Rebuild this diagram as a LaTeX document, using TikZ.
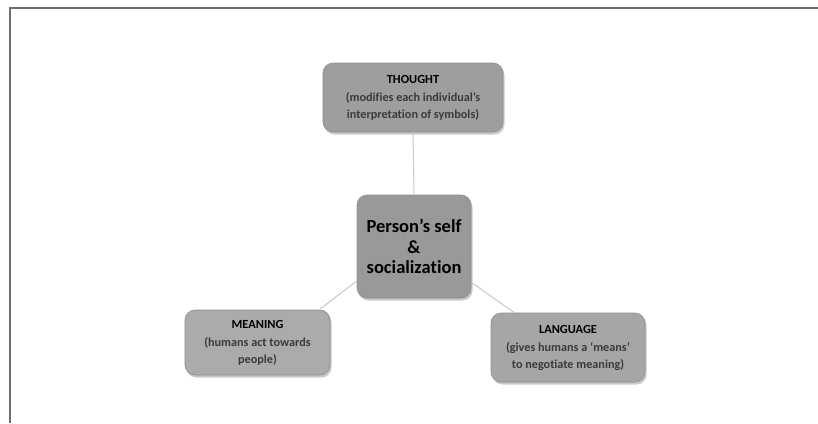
\documentclass[tikz,border=0pt]{standalone}
\usepackage{fontspec}
\setmainfont[Ligatures=NoCommon]{Carlito}
\usetikzlibrary{shadows}
\definecolor{boxA}{HTML}{9E9E9E}
\definecolor{boxB}{HTML}{ABABAB}
\definecolor{boxedge}{HTML}{8E8E8E}
\definecolor{subtxt}{HTML}{3A3A3A}
\definecolor{linkc}{HTML}{C8C8C8}
\definecolor{framec}{HTML}{6E6E6E}
\tikzset{
  box/.style={rectangle, rounded corners=10pt, draw=boxedge, line width=0.6pt,
    align=center, inner sep=2pt,
    drop shadow={opacity=0.35, shadow xshift=1.5pt, shadow yshift=-2.5pt, fill=black!60}},
  small/.style={font=\bfseries\fontsize{12.2}{16.5}\selectfont, text=subtxt},
  conn/.style={draw=linkc, line width=1pt},
  frameline/.style={draw=framec, line width=1.4pt},
}
\newcommand{\ttl}[1]{{\color{black}\fontsize{12.4}{16.5}\selectfont #1}}
\begin{document}
\begin{tikzpicture}[x=1pt,y=-1pt]
\useasboundingbox[fill=white] (0,0) rectangle (818,423);
\draw[frameline] (10,423) -- (10,8) -- (818,8);

\node[box, small, fill=boxA, minimum width=180pt, minimum height=69pt] (t) at (413,97.5)
  {\ttl{THOUGHT}\\[2pt](modifies each individual's\\interpretation of symbols)};

\node[box, fill=boxA!97!black, minimum width=114pt, minimum height=103pt, font=\bfseries\fontsize{18.5}{20.5}\selectfont] (c) at (414,246.5)
  {Person's self\\\&\\socialization};

\node[box, small, fill=boxB, minimum width=145pt, minimum height=65pt] (m) at (257.5,342.5)
  {\ttl{MEANING}\\[2pt](humans act towards\\people)};

\node[box, small, fill=boxB!97!black, minimum width=154pt, minimum height=69pt] (l) at (568,347.5)
  {\ttl{LANGUAGE}\\[2pt](gives humans a `means'\\to negotiate meaning)};

\draw[conn] (t.south) -- (c.north);
\draw[conn] (c.211) -- (m.28);
\draw[conn] (c.-32) -- (l.147);
\end{tikzpicture}
\end{document}
